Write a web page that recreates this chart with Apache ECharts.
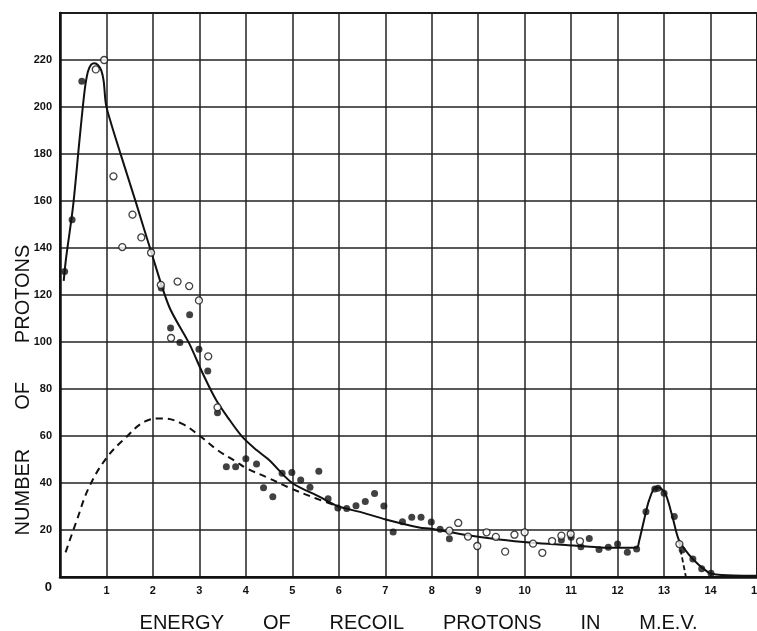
<!DOCTYPE html>
<html>
<head>
<meta charset="utf-8">
<script src="https://cdn.jsdelivr.net/npm/echarts@6/dist/echarts.min.js"></script>
<style>
  html, body { margin: 0; padding: 0; background: #fff; }
  #main { width: 757px; height: 631px; }
</style>
</head>
<body>
<div id="main"></div>
<script>
var chartDom = document.getElementById('main')
var myChart = echarts.init(chartDom)
var option

// fitted curve (solid)
let fitCurve = [
  [0.08, 126], [0.13, 135.6], [0.28, 157.6], [0.42, 186], [0.53, 207], [0.6, 215],
  [0.67, 218], [0.74, 218.6], [0.82, 217.8], [0.89, 215.5], [0.94, 211], [0.99, 201],
  [1.1, 193], [1.32, 179], [1.64, 159], [1.96, 138.5], [2.35, 115], [2.78, 99.4],
  [3.07, 86.7], [3.36, 75.3], [3.65, 66.8], [3.93, 59.5], [4.23, 54], [4.5, 49.8], [4.99, 40.1],
  [5.58, 34.2], [5.97, 30.2], [6.51, 27.4], [7.01, 24.5], [7.73, 21.1], [7.99, 20.5],
  [8.74, 17.9], [9.45, 16], [10.17, 14.6], [10.89, 13.6], [11.6, 12.6], [12.41, 12.4],
  [12.46, 15], [12.57, 24.3], [12.68, 32.8], [12.82, 38.2], [12.93, 37.7], [13.04, 34.9],
  [13.18, 25.7], [13.32, 15.7], [13.54, 9.4], [13.75, 5.1], [13.93, 2.3], [14.01, 1.4],
  [14.5, 0.6], [15, 0.5]
]
// dashed curves
let dashCurve = [
  [0.12, 10.5], [0.35, 23.5], [0.63, 38.4], [1.01, 50.9], [1.42, 59.4], [1.82, 66.1],
  [2.21, 67.5], [2.61, 65.4], [3.01, 60], [3.39, 54], [3.79, 49.1], [3.99, 46.5],
  [4.5, 42], [4.97, 37.7], [5.5, 33.5], [5.97, 30.2]
]
let dashTail = [[13.32, 15], [13.47, 0]]

// measured points
let solidPts = [
  [0.1, 130], [0.26, 152], [0.47, 211], [2.18, 123], [2.79, 111.6], [2.38, 106],
  [2.58, 99.8], [2.99, 96.9], [3.18, 87.7], [3.39, 69.9], [3.58, 46.9], [3.78, 46.9],
  [4.0, 50.3], [4.23, 48.1], [4.38, 38], [4.58, 34.2], [4.78, 44.2], [4.99, 44.5],
  [5.18, 41.3], [5.38, 38.2], [5.57, 45], [5.77, 33.3], [5.98, 29.4], [6.17, 29.1],
  [6.37, 30.3], [6.57, 32.1], [6.77, 35.5], [6.97, 30.2], [7.17, 19.2], [7.37, 23.5],
  [7.57, 25.4], [7.77, 25.4], [7.99, 23.4], [8.18, 20.3], [8.38, 16.3], [10.79, 15.7],
  [11.0, 16.9], [11.21, 12.9], [11.39, 16.4], [11.6, 11.7], [11.8, 12.7], [12.0, 14],
  [12.21, 10.5], [12.41, 11.9], [12.61, 27.8], [12.8, 37.4], [12.87, 37.8], [13.0, 35.6],
  [13.22, 25.7], [13.39, 11.5], [13.62, 7.7], [13.81, 3.5], [14.01, 1.6]
]
let openPts = [
  [0.77, 216], [0.95, 220], [1.15, 170.5], [1.34, 140.4], [1.56, 154.2], [1.75, 144.5],
  [1.96, 138], [2.17, 124.3], [2.53, 125.7], [2.78, 123.8], [2.99, 117.7], [2.39, 101.7],
  [3.19, 93.9], [3.39, 72.2], [8.38, 19.7], [8.57, 23], [8.78, 17.2], [8.98, 13.2],
  [9.18, 19], [9.38, 17.1], [9.58, 10.8], [9.78, 18], [10.0, 19], [10.18, 14.2],
  [10.38, 10.3], [10.59, 15.3], [10.79, 17.6], [10.99, 18.3], [11.19, 15.2], [13.33, 14]
]

let font = 'Liberation Sans'

option = {
  backgroundColor: '#fff',
  animation: false,
  grid: {
    left: 60, right: 0, top: 13, bottom: 54,
    outerBoundsMode: 'none',
    show: true, borderColor: '#111', borderWidth: 2
  },
  graphic: [
    {
      type: 'text',
      x: 23,
      y: 390,
      rotation: Math.PI / 2,
      style: {
        text: 'NUMBER       OF       PROTONS',
        font: '20px ' + font,
        fill: '#111',
        align: 'center',
        verticalAlign: 'middle'
      }
    }
  ],
  xAxis: {
    type: 'value',
    min: 0,
    max: 15,
    interval: 1,
    name: 'ENERGY       OF       RECOIL       PROTONS       IN       M.E.V.',
    nameLocation: 'middle',
    nameGap: 36,
    nameTextStyle: { fontFamily: font, fontSize: 20, color: '#111', padding: [0, 0, 0, 20] },
    axisLine: { lineStyle: { color: '#111', width: 2.5 } },
    axisTick: { show: false },
    splitLine: { lineStyle: { color: '#222', width: 1.5 } },
    axisLabel: {
      color: '#111',
      fontFamily: font,
      fontSize: 11,
      fontWeight: 'bold',
      margin: 8,
      formatter: v => (v === 0 ? '' : v)
    }
  },
  yAxis: {
    type: 'value',
    min: 0,
    max: 240,
    interval: 20,
    axisLine: { show: true, lineStyle: { color: '#111', width: 2.5 } },
    axisTick: { show: false },
    splitLine: { lineStyle: { color: '#222', width: 1.5 } },
    axisLabel: {
      color: '#111',
      fontFamily: font,
      fontSize: 11,
      fontWeight: 'bold',
      margin: 8,
      formatter: v => (v === 240 ? '' : v === 0 ? '{z|0}' : v),
      rich: { z: { fontFamily: font, fontSize: 13, fontWeight: 'bold', color: '#111', padding: [20, 0, 0, 0] } }
    }
  },
  series: [
    {
      type: 'line',
      data: fitCurve,
      smooth: 0.3,
      showSymbol: false,
      lineStyle: { color: '#111', width: 2 },
      z: 3
    },
    {
      type: 'line',
      data: dashCurve,
      smooth: 0.4,
      showSymbol: false,
      lineStyle: { color: '#111', width: 2, type: [7, 5] },
      z: 3
    },
    {
      type: 'line',
      data: dashTail,
      showSymbol: false,
      lineStyle: { color: '#111', width: 1.8, type: [5, 3] },
      z: 3
    },
    {
      type: 'scatter',
      data: solidPts,
      symbolSize: 7,
      itemStyle: { color: '#111' },
      z: 4
    },
    {
      type: 'scatter',
      data: openPts,
      symbolSize: 7,
      itemStyle: { color: '#fff', borderColor: '#111', borderWidth: 1.3 },
      z: 5
    }
  ]
}

option && myChart.setOption(option)
</script>
</body>
</html>
